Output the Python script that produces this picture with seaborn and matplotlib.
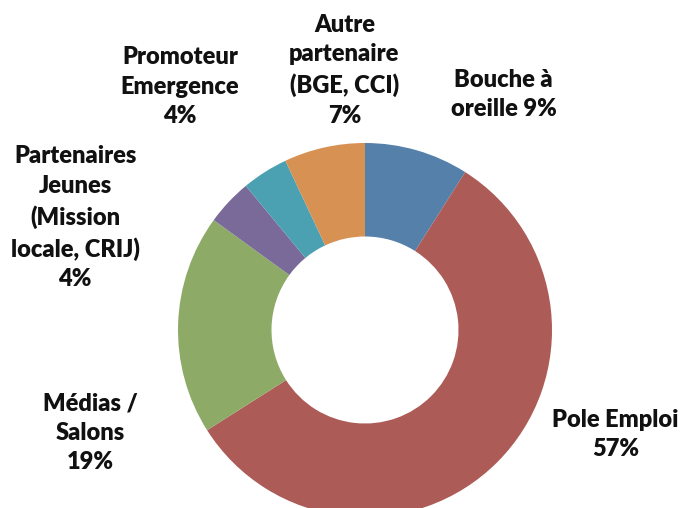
import matplotlib
matplotlib.use("Agg")
import matplotlib.pyplot as plt
import seaborn as sns

# slices, clockwise from 12 o'clock
categories = [
    "Bouche à\noreille",
    "Pole Emploi",
    "Médias /\nSalons",
    "Partenaires\nJeunes\n(Mission\nlocale, CRIJ)",
    "Promoteur\nEmergence",
    "Autre\npartenaire\n(BGE, CCI)",
]
percents = [9, 57, 19, 4, 4, 7]
colors = ["#5580AA", "#AC5B57", "#8DAB67", "#7A6A99", "#4BA0B2", "#D79153"]

# label anchor positions (pie radius = 1)
label_x = [0.74, 1.34, -1.47, -1.55, -0.99, -0.11]
label_y = [1.26, -0.56, -0.55, 0.60, 1.30, 1.39]
# Bouche à oreille keeps its value on the same line
inline_value = [True, False, False, False, False, False]

sns.set_theme(style="white")
plt.rcParams["font.family"] = ["Lato", "DejaVu Sans"]

R = 187.0  # px per unit
cx, cy = 365.0, 330.0
W, H = 691, 508

fig = plt.figure(figsize=(W / 100, H / 100), dpi=100)
ax = fig.add_axes([0, 0, 1, 1])

ax.pie(
    percents,
    colors=colors,
    startangle=90,
    counterclock=False,
    radius=1.0,
    wedgeprops=dict(width=0.5, edgecolor="none", linewidth=0),
)

for name, p, x, y, inline in zip(categories, percents, label_x, label_y, inline_value):
    txt = f"{name} {p}%" if inline else f"{name}\n{p}%"
    ax.text(x, y, txt, ha="center", va="center", fontsize=17,
            fontweight="heavy", color="#111111", linespacing=1.42)

ax.set_xlim(-cx / R, (W - cx) / R)
ax.set_ylim(-(H - cy) / R, cy / R)
ax.set_aspect("equal")
ax.axis("off")

fig.savefig("out.png", dpi=100, facecolor="white")
